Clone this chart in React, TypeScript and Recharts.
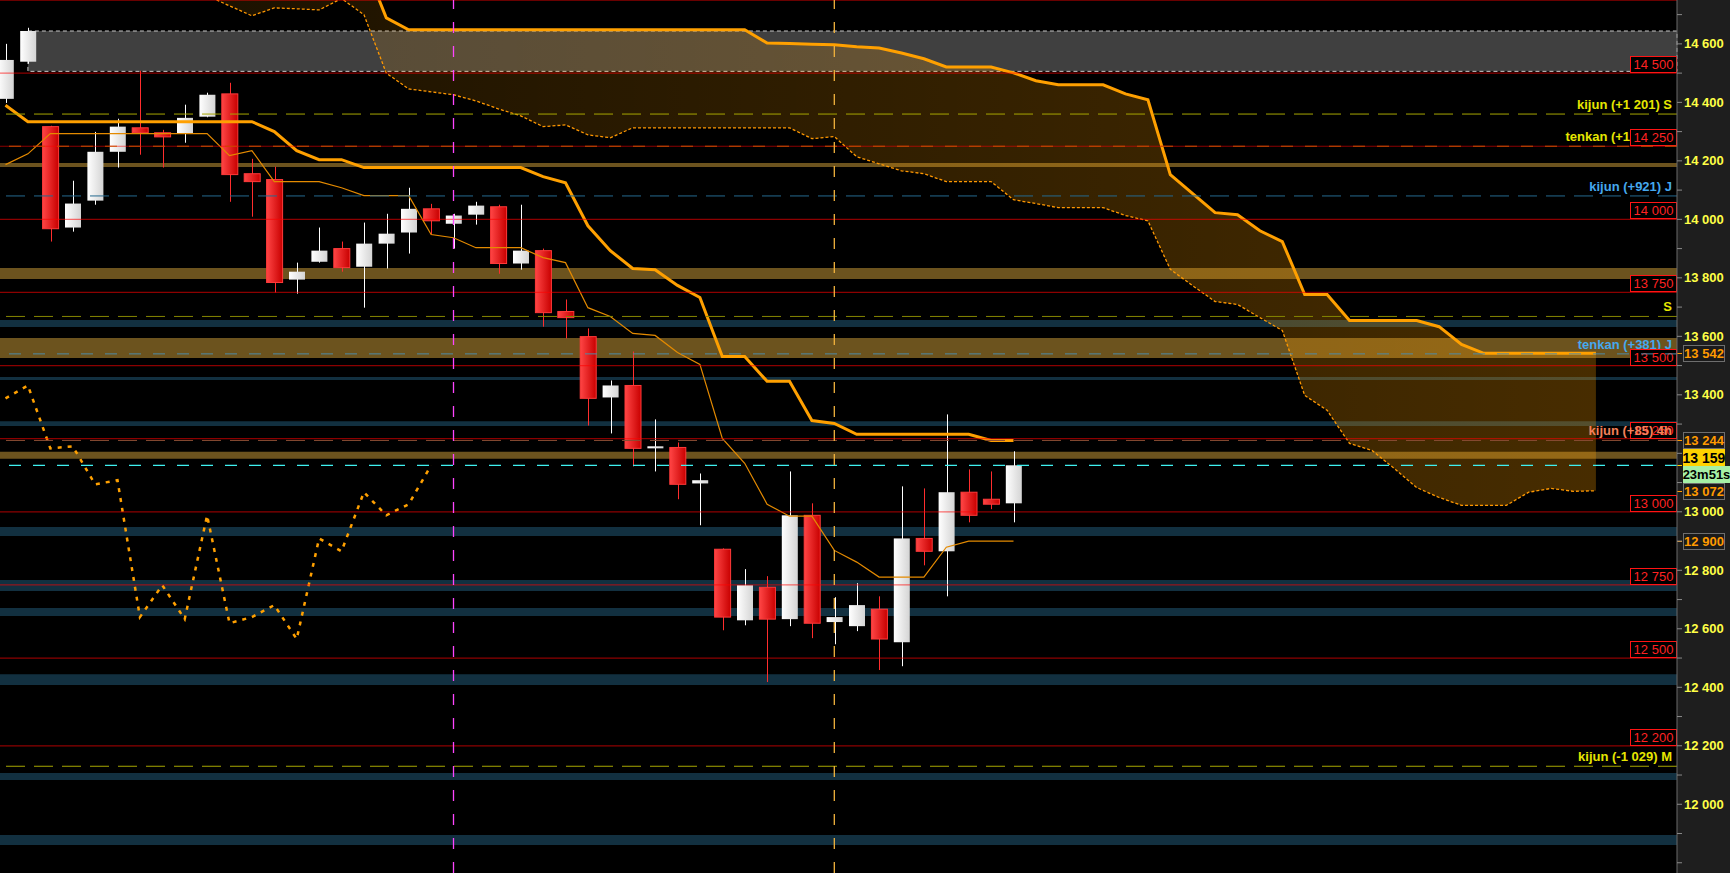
import React from "react";
import {
  ComposedChart,
  XAxis,
  YAxis,
  CartesianGrid,
  Area,
  Line,
  Bar,
  ReferenceLine,
  ReferenceArea,
} from "recharts";

const FONT = "'Liberation Sans', Arial, sans-serif";

// 4h candles, oldest first
const opens = [14412, 14539, 14317, 13972, 14064, 14231, 14313, 14296, 14293, 14351, 14429, 14156, 14136, 13794, 13855, 13900, 13838, 13917, 13955, 14036, 13985, 14016, 14043, 13849, 13893, 13685, 13599, 13391, 13432, 13217, 13220, 13097, 12872, 12629, 12742, 12633, 12988, 12623, 12609, 12667, 12554, 12909, 12865, 13067, 13043, 13029];
const highs = [14600, 14655, 14320, 14132, 14299, 14344, 14508, 14306, 14392, 14433, 14467, 14207, 14180, 13852, 13972, 13924, 13989, 14019, 14108, 14053, 14019, 14060, 14050, 14050, 13900, 13726, 13627, 13449, 13548, 13316, 13237, 13131, 12875, 12804, 12780, 13138, 13029, 12708, 12756, 12711, 13087, 13080, 13333, 13145, 13138, 13207];
const lows = [14398, 14532, 13924, 13958, 14050, 14177, 14221, 14177, 14262, 14349, 14060, 14009, 13750, 13746, 13852, 13821, 13698, 13832, 13883, 13948, 13900, 13982, 13814, 13828, 13633, 13593, 13295, 13268, 13155, 13138, 13043, 12954, 12595, 12612, 12418, 12609, 12568, 12547, 12592, 12459, 12472, 12817, 12711, 12964, 13009, 12964];
const closes = [14545, 14644, 13968, 14054, 14231, 14317, 14296, 14282, 14347, 14426, 14153, 14129, 13784, 13821, 13893, 13835, 13917, 13951, 14036, 13995, 14013, 14047, 13849, 13893, 13681, 13664, 13388, 13432, 13217, 13224, 13094, 13108, 12640, 12749, 12633, 12988, 12619, 12640, 12681, 12565, 12909, 12865, 13067, 12988, 13026, 13159];

// ichimoku
const tenkan = [14187, 14224, 14293, 14293, 14293, 14293, 14293, 14293, 14293, 14293, 14218, 14235, 14129, 14129, 14129, 14108, 14081, 14081, 14081, 13948, 13937, 13903, 13903, 13903, 13869, 13852, 13698, 13668, 13610, 13603, 13545, 13504, 13251, 13166, 13026, 12985, 12985, 12868, 12828, 12777, 12777, 12777, 12879, 12900, 12900, 12900];
const kijun = [14390, 14334, 14334, 14334, 14334, 14334, 14334, 14334, 14334, 14334, 14334, 14334, 14300, 14235, 14204, 14204, 14177, 14177, 14177, 14177, 14177, 14177, 14177, 14177, 14146, 14125, 13978, 13893, 13832, 13828, 13774, 13733, 13531, 13531, 13446, 13446, 13312, 13302, 13265, 13265, 13265, 13265, 13265, 13265, 13244, 13244];

// leading spans are plotted 26 bars ahead, first value at slot SPAN_START
const SPAN_START = 8;
const spanA = [14800, 14765, 14730, 14696, 14723, 14720, 14716, 14755, 14700, 14500, 14446, 14436, 14426, 14405, 14378, 14354, 14317, 14323, 14289, 14279, 14313, 14313, 14313, 14313, 14313, 14313, 14313, 14313, 14276, 14283, 14214, 14190, 14166, 14156, 14129, 14129, 14129, 14067, 14054, 14040, 14040, 14040, 14013, 13995, 13829, 13773, 13719, 13709, 13664, 13620, 13398, 13347, 13234, 13210, 13148, 13083, 13049, 13022, 13022, 13022, 13067, 13080, 13070, 13072];
const spanB = [14880, 14880, 14880, 14880, 14880, 14880, 14880, 14880, 14880, 14689, 14648, 14648, 14648, 14648, 14648, 14648, 14648, 14648, 14648, 14648, 14648, 14648, 14648, 14648, 14648, 14648, 14603, 14601, 14599, 14597, 14590, 14586, 14569, 14549, 14521, 14521, 14521, 14501, 14474, 14460, 14460, 14460, 14429, 14409, 14153, 14088, 14023, 14016, 13961, 13924, 13743, 13743, 13654, 13654, 13654, 13654, 13633, 13572, 13542, 13542, 13542, 13542, 13542, 13542];
const LAG = 26;
const LAST_SLOT = 71;

// horizontal zones
const goldBands: [number, number][] = [[14179, 14193], [13796, 13834], [13526, 13594], [13181, 13205]];
const tealBands: [number, number][] = [[13632, 13656], [13451, 13461], [13293, 13310], [12917, 12948], [12729, 12767], [12644, 12671], [12408, 12445], [12083, 12107], [11861, 11895]];
const rangeZone = { from: 1, low: 14506, high: 14644 };

// round numbers
const roundLevels = [14500, 14250, 14000, 13750, 13500, 13250, 13000, 12750, 12500, 12200];
const TOP_LEVEL = 14750;

// higher timeframe levels
const tenkanLevels = [
  { value: 14250, text: "tenkan (+1 091) S", kind: "S" },
  { value: 13540, text: "tenkan (+381) J", kind: "J" },
];
const kijunLevels = [
  { value: 14360, text: "kijun (+1 201) S", kind: "S" },
  { value: 14080, text: "kijun (+921) J", kind: "J" },
  { value: 13668, text: "S", kind: "S2" },
  { value: 13244, text: "kijun (+85) 4h", kind: "4h" },
  { value: 12130, text: "kijun (-1 029) M", kind: "M" },
];

const timeMarks = [20, 37];
const countdown = "23m51s";

const yTicks = [14700, 14600, 14500, 14400, 14300, 14200, 14100, 14000, 13900, 13800, 13700, 13600, 13500, 13400, 13300, 13200, 13100, 13000, 12900, 12800, 12700, 12600, 12500, 12400, 12300, 12200, 12100, 12000, 11900, 11800];
const LOWEST_LABEL = 12000;

const LEVEL_STYLE: Record<string, { text: string; line: string; dash: string }> = {
  S: { text: "#e6e600", line: "#a6a600", dash: "19 9" },
  S2: { text: "#e6e600", line: "#858500", dash: "19 9" },
  M: { text: "#e6e600", line: "#a6a600", dash: "19 9" },
  J: { text: "#45a8ee", line: "#25698f", dash: "19 9" },
  "4h": { text: "#f4805a", line: "#8a4c32", dash: "19 9" },
};
const TENKAN_STYLE: Record<string, { line: string; dash: string }> = {
  S: { line: "#c85000", dash: "12 12" },
  J: { line: "#4f8aa5", dash: "12 12" },
};

const W = 1730;
const H = 873;
const AXIS_W = 53;
const X_DOMAIN: [number, number] = [-0.2455, 74.62];
const Y_DOMAIN: [number, number] = [11765, 14750];

type Row = {
  idx: number;
  open?: number;
  high?: number;
  low?: number;
  close?: number;
  tenkan?: number;
  kijun?: number;
  chikou?: number;
  spanA?: number;
  spanB?: number;
};

const rows: Row[] = Array.from({ length: LAST_SLOT + 1 }, (_, i) => {
  const r: Row = { idx: i };
  if (i < closes.length) {
    r.open = opens[i];
    r.high = highs[i];
    r.low = lows[i];
    r.close = closes[i];
    r.tenkan = tenkan[i];
    r.kijun = kijun[i];
  }
  if (i + LAG < closes.length) r.chikou = closes[i + LAG];
  if (i >= SPAN_START) {
    r.spanA = spanA[i - SPAN_START];
    r.spanB = spanB[i - SPAN_START];
  }
  return r;
});

const last = closes.length - 1;
const axisTags = [spanB[spanB.length - 1], kijun[last], spanA[spanA.length - 1], tenkan[last]];
const price = closes[last];

const fmt = (v: number) => `${Math.floor(v / 1000)} ${String(Math.round(v) % 1000).padStart(3, "0")}`;

// axis labels that sit under the price / indicator tags are not shown
const underTag = (v: number) =>
  (v > price - 75 && v < price + 72) || axisTags.some((t) => Math.abs(v - t) < 45);
const tickText = (v: number) => (v % 200 === 0 && v >= LOWEST_LABEL && !underTag(v) ? fmt(v) : "");

function Candle(props: any) {
  const { x, y, width, height, payload } = props;
  if (!payload || payload.open == null) return null;
  const { open, close, high, low } = payload;
  const top = Math.min(y, y + height);
  const h = Math.abs(height);
  const k = h / (high - low);
  const py = (v: number) => top + (high - v) * k;
  const up = close >= open;
  const bTop = py(Math.max(open, close));
  const bH = Math.max(2, py(Math.min(open, close)) - bTop);
  const cx = Math.round(x + width / 2) + 0.5;
  return (
    <g>
      <line x1={cx} x2={cx} y1={top} y2={top + h} stroke={up ? "#ffffff" : "#ff2d2d"} strokeWidth={1} />
      <rect
        x={x + 0.5}
        y={bTop}
        width={width - 1}
        height={bH}
        fill={up ? "url(#bullBody)" : "url(#bearBody)"}
        stroke={up ? "none" : "#ff3a3a"}
        strokeWidth={1}
      />
    </g>
  );
}

const roundBox = (text: string) => (p: any) => {
  const { x, y, width } = p.viewBox;
  const r = x + width;
  const top = Math.round(y) - 17;
  return (
    <g>
      <rect x={r - 46.5} y={top + 0.5} width={46} height={16} fill="#000" stroke="#ff1414" />
      <text x={r - 23.5} y={top + 13} textAnchor="middle" fill="#ff2222" fontSize={13} fontFamily={FONT}>
        {text}
      </text>
    </g>
  );
};

const levelText = (text: string, color: string) => (p: any) => {
  const { x, y, width } = p.viewBox;
  return (
    <text x={x + width - 5} y={y - 5} textAnchor="end" fill={color} fontSize={13} fontWeight={700} fontFamily={FONT}>
      {text}
    </text>
  );
};

const axisTag = (text: string) => (p: any) => {
  const { x, y, width } = p.viewBox;
  const r = x + width;
  const cy = Math.round(y);
  return (
    <g>
      <line x1={r} x2={r + 5} y1={cy + 0.5} y2={cy + 0.5} stroke="#ff9a00" />
      <rect x={r + 6.5} y={cy - 7.5} width={41} height={16} fill="#1b1b1b" stroke="#6e6e6e" />
      <text x={r + 27} y={cy + 5} textAnchor="middle" fill="#ff9a00" fontSize={13} fontWeight={700} fontFamily={FONT}>
        {text}
      </text>
    </g>
  );
};

const priceTag = (text: string, timer: string) => (p: any) => {
  const { x, y, width } = p.viewBox;
  const r = x + width;
  const cy = Math.round(y);
  return (
    <g>
      <line x1={r} x2={r + 5} y1={cy + 0.5} y2={cy + 0.5} stroke="#ffd200" />
      <rect x={r + 6} y={cy - 16} width={42} height={17} fill="#ffd200" />
      <text x={r + 27} y={cy - 2} textAnchor="middle" fill="#000" fontSize={14} fontWeight={700} fontFamily={FONT}>
        {text}
      </text>
      <rect x={r + 6} y={cy + 1} width={47} height={17} fill="#a6f0a6" />
      <text x={r + 29.5} y={cy + 14} textAnchor="middle" fill="#000" fontSize={13} fontWeight={700} fontFamily={FONT}>
        {timer}
      </text>
    </g>
  );
};

export default function App() {
  return (
    <div style={{ position: "fixed", left: 0, top: 0, width: W, height: H, background: "#1e1e1e" }}>
      <ComposedChart width={W} height={H} data={rows} margin={{ top: 0, right: 0, bottom: 0, left: 0 }}>
        <defs>
          <linearGradient id="bullBody" x1="0" y1="0" x2="1" y2="0">
            <stop offset="0%" stopColor="#ffffff" />
            <stop offset="100%" stopColor="#d4d4d4" />
          </linearGradient>
          <linearGradient id="bearBody" x1="0" y1="0" x2="1" y2="0">
            <stop offset="0%" stopColor="#ff4545" />
            <stop offset="100%" stopColor="#c80000" />
          </linearGradient>
          <linearGradient id="cloudFill" gradientUnits="userSpaceOnUse" x1="200" y1="0" x2="1600" y2="0">
            <stop offset="0%" stopColor="#ff9f00" stopOpacity={0.11} />
            <stop offset="100%" stopColor="#ff9f00" stopOpacity={0.28} />
          </linearGradient>
        </defs>
        <CartesianGrid fill="#000" horizontal={false} vertical={false} />
        <XAxis dataKey="idx" type="number" domain={X_DOMAIN} allowDataOverflow hide />
        <YAxis
          orientation="right"
          width={AXIS_W}
          domain={Y_DOMAIN}
          allowDataOverflow
          ticks={yTicks}
          interval={0}
          tickFormatter={tickText}
          tick={{ fill: "#ffff46", fontSize: 13, fontWeight: 700, fontFamily: FONT }}
          axisLine={{ stroke: "#6a6a6a" }}
          tickLine={{ stroke: "#8a8a8a" }}
          tickSize={5}
          tickMargin={2}
        />

        {goldBands.map(([a, b]) => (
          <ReferenceArea key={`g${a}`} y1={a} y2={b} fill="rgb(215,165,60)" fillOpacity={0.5} stroke="none" />
        ))}
        {tealBands.map(([a, b]) => (
          <ReferenceArea key={`t${a}`} y1={a} y2={b} fill="rgb(36,96,128)" fillOpacity={0.5} stroke="none" />
        ))}
        <ReferenceArea
          x1={rangeZone.from}
          x2={X_DOMAIN[1]}
          y1={rangeZone.low}
          y2={rangeZone.high}
          fill="rgb(128,128,128)"
          fillOpacity={0.5}
          stroke="#c8c8c8"
          strokeDasharray="4 3"
        />

        <Area
          type="linear"
          dataKey={(r: Row) => (r.spanA != null && r.spanB != null ? [r.spanA, r.spanB] : null)}
          stroke="none"
          fill="url(#cloudFill)"
          fillOpacity={1}
          isAnimationActive={false}
          dot={false}
          activeDot={false}
        />
        <Line type="linear" dataKey="spanB" stroke="#ffa000" strokeWidth={3} dot={false} activeDot={false} isAnimationActive={false} />
        <Line type="linear" dataKey="spanA" stroke="#ff9800" strokeWidth={1.3} strokeDasharray="3 2" dot={false} activeDot={false} isAnimationActive={false} />
        <Line type="linear" dataKey="tenkan" stroke="#e48a00" strokeWidth={1.2} dot={false} activeDot={false} isAnimationActive={false} />
        <Line type="linear" dataKey="kijun" stroke="#ffa000" strokeWidth={3} dot={false} activeDot={false} isAnimationActive={false} />
        <Line type="linear" dataKey="chikou" stroke="#ffa000" strokeWidth={2.5} strokeDasharray="4 6" dot={false} activeDot={false} isAnimationActive={false} />

        <Bar
          dataKey={(r: Row) => (r.open != null ? [r.low, r.high] : null)}
          barSize={17}
          shape={Candle}
          isAnimationActive={false}
        />

        {tenkanLevels.map((l) => (
          <ReferenceLine key={`tl${l.value}`} y={l.value} stroke="none" label={levelText(l.text, LEVEL_STYLE[l.kind].text)} />
        ))}

        <ReferenceLine y={TOP_LEVEL} stroke="#ff0000" strokeOpacity={0.55} strokeWidth={1.5} />
        {roundLevels.map((v) => (
          <ReferenceLine key={`r${v}`} y={v} stroke="#ff0000" strokeOpacity={0.55} strokeWidth={1.2} label={roundBox(fmt(v))} />
        ))}

        {tenkanLevels.map((l) => (
          <ReferenceLine key={`t${l.value}`} y={l.value} stroke={TENKAN_STYLE[l.kind].line} strokeDasharray={TENKAN_STYLE[l.kind].dash} />
        ))}
        {kijunLevels.map((l) => (
          <ReferenceLine
            key={`k${l.value}`}
            y={l.value}
            stroke={LEVEL_STYLE[l.kind].line}
            strokeDasharray={LEVEL_STYLE[l.kind].dash}
            label={levelText(l.text, LEVEL_STYLE[l.kind].text)}
          />
        ))}

        <ReferenceLine y={price} stroke="#3ff0f0" strokeWidth={1.3} strokeDasharray="12 12" label={priceTag(fmt(price), countdown)} />
        {axisTags.map((v) => (
          <ReferenceLine key={`a${v}`} y={v} stroke="none" label={axisTag(fmt(v))} />
        ))}

        <ReferenceLine x={timeMarks[0]} stroke="#ff44ff" strokeWidth={1.3} strokeDasharray="11 13" />
        <ReferenceLine x={timeMarks[1]} stroke="#f2b33d" strokeWidth={1.3} strokeDasharray="11 13" />
      </ComposedChart>
    </div>
  );
}
